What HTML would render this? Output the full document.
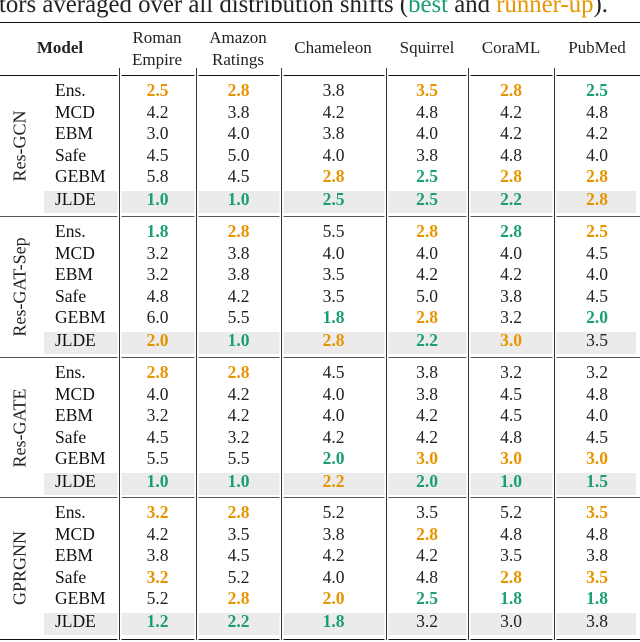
<!DOCTYPE html>
<html><head><meta charset="utf-8"><style>
body{margin:0;width:640px;height:642px;overflow:hidden;background:#fff;position:relative;font-family:"Liberation Serif","Times New Roman",serif;color:#222}
.cap{position:absolute;left:-1px;top:-7px;font-size:24.8px;white-space:nowrap;line-height:24px}
.g{color:#1b9e77}.o{color:#e69500}
.hr{position:absolute;left:0;width:640px;background:#111}
.band{position:absolute;left:44px;width:592px;height:22px;background:#ebebeb}
.vl{position:absolute;width:1.2px;background:#333;top:68px;height:572px;box-shadow:0 0 0 1.5px #fff}
.row{position:absolute;left:0;height:21.5px;line-height:21.5px;font-size:17.5px;display:flex;width:640px}
.row span{display:block;text-align:center}
.row span:nth-child(1){width:44px}
.row span:nth-child(2){width:75px;text-align:left;padding-left:11px;box-sizing:border-box;color:#111}
.row span:nth-child(3){width:77px}
.row span:nth-child(4){width:85px}
.row span:nth-child(5){width:105px}
.row span:nth-child(6){width:82px}
.row span:nth-child(7){width:86px}
.row span:nth-child(8){width:86px}
b{font-weight:bold}
.lab{position:absolute;left:20px;font-size:18px;transform:translate(-50%,-50%) rotate(-90deg);white-space:nowrap}
.h{position:absolute;font-size:17px;text-align:center;line-height:22px;transform:translateX(-50%);white-space:nowrap}
</style></head><body>
<div class="cap">tors averaged over all distribution shifts (<span class="g">best</span> and <span class="o">runner-up</span>).</div>
<div class="hr" style="top:22px;height:1.4px"></div>
<div class="hr" style="top:75px;height:1px"></div>
<div class="hr" style="top:216px;height:1px;background:#555"></div>
<div class="hr" style="top:357px;height:1px;background:#555"></div>
<div class="hr" style="top:497px;height:1px;background:#555"></div>
<div class="hr" style="top:639px;height:1.4px"></div>

<div class="band" style="top:191px"></div>
<div class="band" style="top:332px"></div>
<div class="band" style="top:473px"></div>
<div class="band" style="top:613px"></div>

<div class="vl" style="left:119px"></div>
<div class="vl" style="left:196px"></div>
<div class="vl" style="left:281px"></div>
<div class="vl" style="left:386px"></div>
<div class="vl" style="left:468px"></div>
<div class="vl" style="left:554px"></div>

<div class="h" style="left:60px;top:37px"><b>Model</b></div>
<div class="h" style="left:157px;top:27px">Roman<br>Empire</div>
<div class="h" style="left:238px;top:27px">Amazon<br>Ratings</div>
<div class="h" style="left:333px;top:37px">Chameleon</div>
<div class="h" style="left:427px;top:37px">Squirrel</div>
<div class="h" style="left:511px;top:37px">CoraML</div>
<div class="h" style="left:597px;top:37px">PubMed</div>

<div class="lab" style="top:146px">Res-GCN</div>
<div class="lab" style="top:287px">Res-GAT-Sep</div>
<div class="lab" style="top:428px">Res-GATE</div>
<div class="lab" style="top:568px">GPRGNN</div>

<div class="row" style="top:80px"><span></span><span>Ens.</span><span class="o"><b>2.5</b></span><span class="o"><b>2.8</b></span><span>3.8</span><span class="o"><b>3.5</b></span><span class="o"><b>2.8</b></span><span class="g"><b>2.5</b></span></div>
<div class="row" style="top:102px"><span></span><span>MCD</span><span>4.2</span><span>3.8</span><span>4.2</span><span>4.8</span><span>4.2</span><span>4.8</span></div>
<div class="row" style="top:123px"><span></span><span>EBM</span><span>3.0</span><span>4.0</span><span>3.8</span><span>4.0</span><span>4.2</span><span>4.2</span></div>
<div class="row" style="top:145px"><span></span><span>Safe</span><span>4.5</span><span>5.0</span><span>4.0</span><span>3.8</span><span>4.8</span><span>4.0</span></div>
<div class="row" style="top:166px"><span></span><span>GEBM</span><span>5.8</span><span>4.5</span><span class="o"><b>2.8</b></span><span class="g"><b>2.5</b></span><span class="o"><b>2.8</b></span><span class="o"><b>2.8</b></span></div>
<div class="row" style="top:189px"><span></span><span>JLDE</span><span class="g"><b>1.0</b></span><span class="g"><b>1.0</b></span><span class="g"><b>2.5</b></span><span class="g"><b>2.5</b></span><span class="g"><b>2.2</b></span><span class="o"><b>2.8</b></span></div>

<div class="row" style="top:221px"><span></span><span>Ens.</span><span class="g"><b>1.8</b></span><span class="o"><b>2.8</b></span><span>5.5</span><span class="o"><b>2.8</b></span><span class="g"><b>2.8</b></span><span class="o"><b>2.5</b></span></div>
<div class="row" style="top:243px"><span></span><span>MCD</span><span>3.2</span><span>3.8</span><span>4.0</span><span>4.0</span><span>4.0</span><span>4.5</span></div>
<div class="row" style="top:264px"><span></span><span>EBM</span><span>3.2</span><span>3.8</span><span>3.5</span><span>4.2</span><span>4.2</span><span>4.0</span></div>
<div class="row" style="top:286px"><span></span><span>Safe</span><span>4.8</span><span>4.2</span><span>3.5</span><span>5.0</span><span>3.8</span><span>4.5</span></div>
<div class="row" style="top:307px"><span></span><span>GEBM</span><span>6.0</span><span>5.5</span><span class="g"><b>1.8</b></span><span class="o"><b>2.8</b></span><span>3.2</span><span class="g"><b>2.0</b></span></div>
<div class="row" style="top:330px"><span></span><span>JLDE</span><span class="o"><b>2.0</b></span><span class="g"><b>1.0</b></span><span class="o"><b>2.8</b></span><span class="g"><b>2.2</b></span><span class="o"><b>3.0</b></span><span>3.5</span></div>

<div class="row" style="top:362px"><span></span><span>Ens.</span><span class="o"><b>2.8</b></span><span class="o"><b>2.8</b></span><span>4.5</span><span>3.8</span><span>3.2</span><span>3.2</span></div>
<div class="row" style="top:384px"><span></span><span>MCD</span><span>4.0</span><span>4.2</span><span>4.0</span><span>3.8</span><span>4.5</span><span>4.8</span></div>
<div class="row" style="top:405px"><span></span><span>EBM</span><span>3.2</span><span>4.2</span><span>4.0</span><span>4.2</span><span>4.5</span><span>4.0</span></div>
<div class="row" style="top:427px"><span></span><span>Safe</span><span>4.5</span><span>3.2</span><span>4.2</span><span>4.2</span><span>4.8</span><span>4.5</span></div>
<div class="row" style="top:448px"><span></span><span>GEBM</span><span>5.5</span><span>5.5</span><span class="g"><b>2.0</b></span><span class="o"><b>3.0</b></span><span class="o"><b>3.0</b></span><span class="o"><b>3.0</b></span></div>
<div class="row" style="top:471px"><span></span><span>JLDE</span><span class="g"><b>1.0</b></span><span class="g"><b>1.0</b></span><span class="o"><b>2.2</b></span><span class="g"><b>2.0</b></span><span class="g"><b>1.0</b></span><span class="g"><b>1.5</b></span></div>

<div class="row" style="top:502px"><span></span><span>Ens.</span><span class="o"><b>3.2</b></span><span class="o"><b>2.8</b></span><span>5.2</span><span>3.5</span><span>5.2</span><span class="o"><b>3.5</b></span></div>
<div class="row" style="top:524px"><span></span><span>MCD</span><span>4.2</span><span>3.5</span><span>3.8</span><span class="o"><b>2.8</b></span><span>4.8</span><span>4.8</span></div>
<div class="row" style="top:545px"><span></span><span>EBM</span><span>3.8</span><span>4.5</span><span>4.2</span><span>4.2</span><span>3.5</span><span>3.8</span></div>
<div class="row" style="top:567px"><span></span><span>Safe</span><span class="o"><b>3.2</b></span><span>5.2</span><span>4.0</span><span>4.8</span><span class="o"><b>2.8</b></span><span class="o"><b>3.5</b></span></div>
<div class="row" style="top:588px"><span></span><span>GEBM</span><span>5.2</span><span class="o"><b>2.8</b></span><span class="o"><b>2.0</b></span><span class="g"><b>2.5</b></span><span class="g"><b>1.8</b></span><span class="g"><b>1.8</b></span></div>
<div class="row" style="top:611px"><span></span><span>JLDE</span><span class="g"><b>1.2</b></span><span class="g"><b>2.2</b></span><span class="g"><b>1.8</b></span><span>3.2</span><span>3.0</span><span>3.8</span></div>
</body></html>
